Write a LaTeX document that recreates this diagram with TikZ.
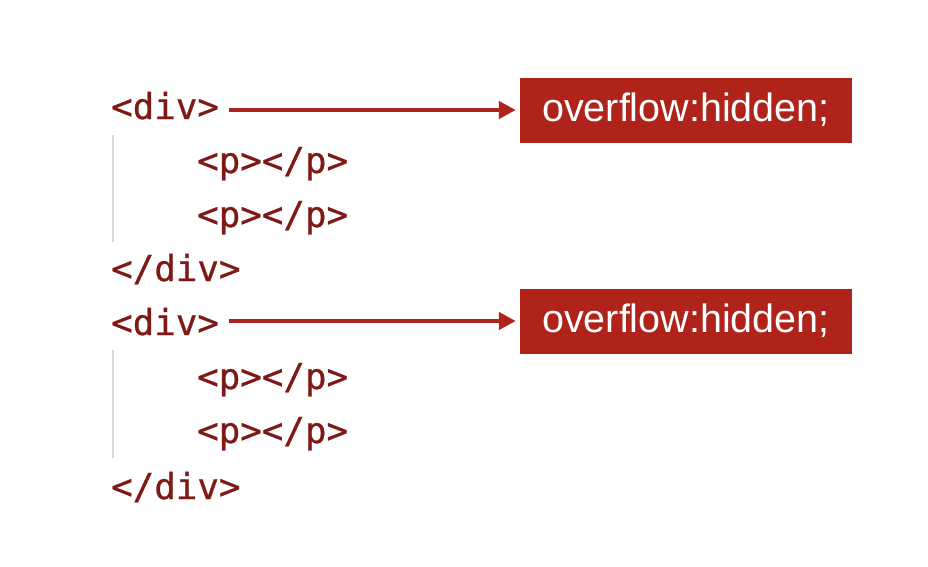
\documentclass[tikz,border=0pt]{standalone}
\usepackage{fontspec}
\setmainfont{Liberation Sans}
\newfontfamily\codefont[FakeBold=0.7]{DejaVu Sans Mono}
\usetikzlibrary{calc,arrows.meta}
\definecolor{tagred}{HTML}{7D1A17}
\definecolor{boxred}{HTML}{AF231B}

\begin{document}
\begin{tikzpicture}[>=Latex,x=1pt,y=-1pt,
    tag/.style={anchor=base west,inner sep=0pt,text=tagred,
      font=\codefont\fontsize{35.8}{40}\selectfont},
    note/.style={fill=boxred,text=white,inner sep=0pt,
      minimum width=332pt,minimum height=65pt,
      font=\fontsize{39.5}{44}\selectfont},
    guide/.style={gray!30,line width=2pt},
    link/.style={boxred,line width=4.5pt,
      arrows={-Triangle[length=17pt,width=17pt]}}]
  \useasboundingbox (0,0) rectangle (928,566);
  % first block
  \node[tag] (div1) at (111,119) {<div>};
  \node[tag] (p1) at (197,173) {<p></p>};
  \node[tag] (p2) at (197,227) {<p></p>};
  \node[tag] (cdiv1) at (111,281) {</div>};
  \draw[guide] (113,135) -- (113,242);
  \node[note] (box1) at (686,110) {overflow:hidden;};
  \draw[link] ($(div1.east |- box1.west)+(10,0)$) -- ($(box1.west)+(-4,0)$);
  % second block
  \node[tag] (div2) at (111,335) {<div>};
  \node[tag] (p3) at (197,389) {<p></p>};
  \node[tag] (p4) at (197,443) {<p></p>};
  \node[tag] (cdiv2) at (111,499) {</div>};
  \draw[guide] (113,350) -- (113,458);
  \node[note] (box2) at (686,321) {overflow:hidden;};
  \draw[link] ($(div2.east |- box2.west)+(10,0)$) -- ($(box2.west)+(-4,0)$);
\end{tikzpicture}
\end{document}
